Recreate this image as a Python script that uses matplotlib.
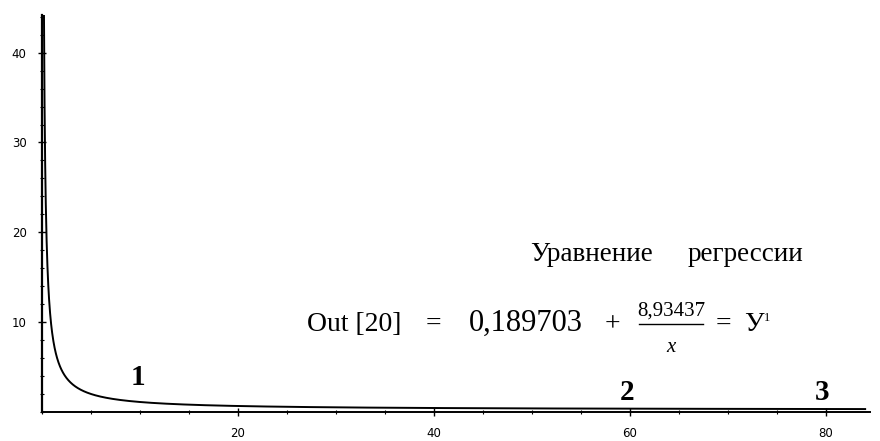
import numpy as np
import matplotlib
matplotlib.use("Agg")
import matplotlib.pyplot as plt
from matplotlib.ticker import MultipleLocator

# Regression coefficients shown on the chart
intercept = 0.189703
slope = 8.93437
x_start, x_end = 0.2, 84.0
x_ticks = [20, 40, 60, 80]
y_ticks = [10, 20, 30, 40]
point_labels = ["1", "2", "3"]
point_label_x = [9.8, 59.7, 79.6]
point_label_y = [3.0, 1.3, 1.3]

x = np.linspace(x_start, x_end, 4000)
y = intercept + slope / x

fig = plt.figure(figsize=(8.8, 4.41), dpi=100)
ax = fig.add_axes([0.0477, 0.0664, 0.941, 0.8995])
ax.plot(x, y, color="black", lw=1.4)
ax.set_xlim(0, 84.5)
ax.set_ylim(0, 44.2)
for s in ["top", "right"]:
    ax.spines[s].set_visible(False)
ax.spines["left"].set_linewidth(1.6)
ax.spines["bottom"].set_linewidth(1.4)
ax.set_xticks(x_ticks)
ax.set_yticks(y_ticks)
ax.xaxis.set_minor_locator(MultipleLocator(5))
ax.yaxis.set_minor_locator(MultipleLocator(2))
ax.tick_params(which="major", direction="inout", length=6, width=1, labelsize=8.5, colors="black")
ax.tick_params(which="minor", direction="inout", length=3, width=0.8)
ax.tick_params(axis="x", pad=8)
ax.tick_params(axis="y", pad=8)

serif = "Liberation Serif"
for lab, lx, ly in zip(point_labels, point_label_x, point_label_y):
    ax.text(lx, ly, lab, fontsize=21, fontweight="bold", family=serif,
            ha="center", va="baseline")


def px(xp, yp):
    return xp / 880, 1 - yp / 441


fig.text(*px(530, 261), "Уравнение", fontsize=19.5, family=serif, ha="left", va="baseline")
fig.text(*px(803, 261), "регрессии", fontsize=19.5, family=serif, ha="right", va="baseline")
fig.text(*px(307, 331), "Out [20]", fontsize=20, family=serif, ha="left", va="baseline")
fig.text(*px(433, 331), "=", fontsize=20, family=serif, ha="center", va="baseline")
fig.text(*px(526, 331), "0,189703", fontsize=22, family=serif, ha="center", va="baseline")
fig.text(*px(612, 331), "+", fontsize=20, family=serif, ha="center", va="baseline")
fig.text(*px(671, 316), "8,93437", fontsize=15, family=serif, ha="center", va="baseline")
fig.add_artist(plt.Line2D([639 / 880, 703 / 880], [1 - 324 / 441, 1 - 324 / 441],
                          color="black", lw=1.0))
fig.text(*px(671, 352), "x", fontsize=15, family=serif, style="italic",
         ha="center", va="baseline")
fig.text(*px(723, 331), "=", fontsize=20, family=serif, ha="center", va="baseline")
fig.text(*px(744, 331), "У", fontsize=20, family=serif, ha="left", va="baseline")
fig.text(*px(764, 321), "1", fontsize=9, family=serif, ha="left", va="baseline")

fig.savefig("out.png", dpi=100)
